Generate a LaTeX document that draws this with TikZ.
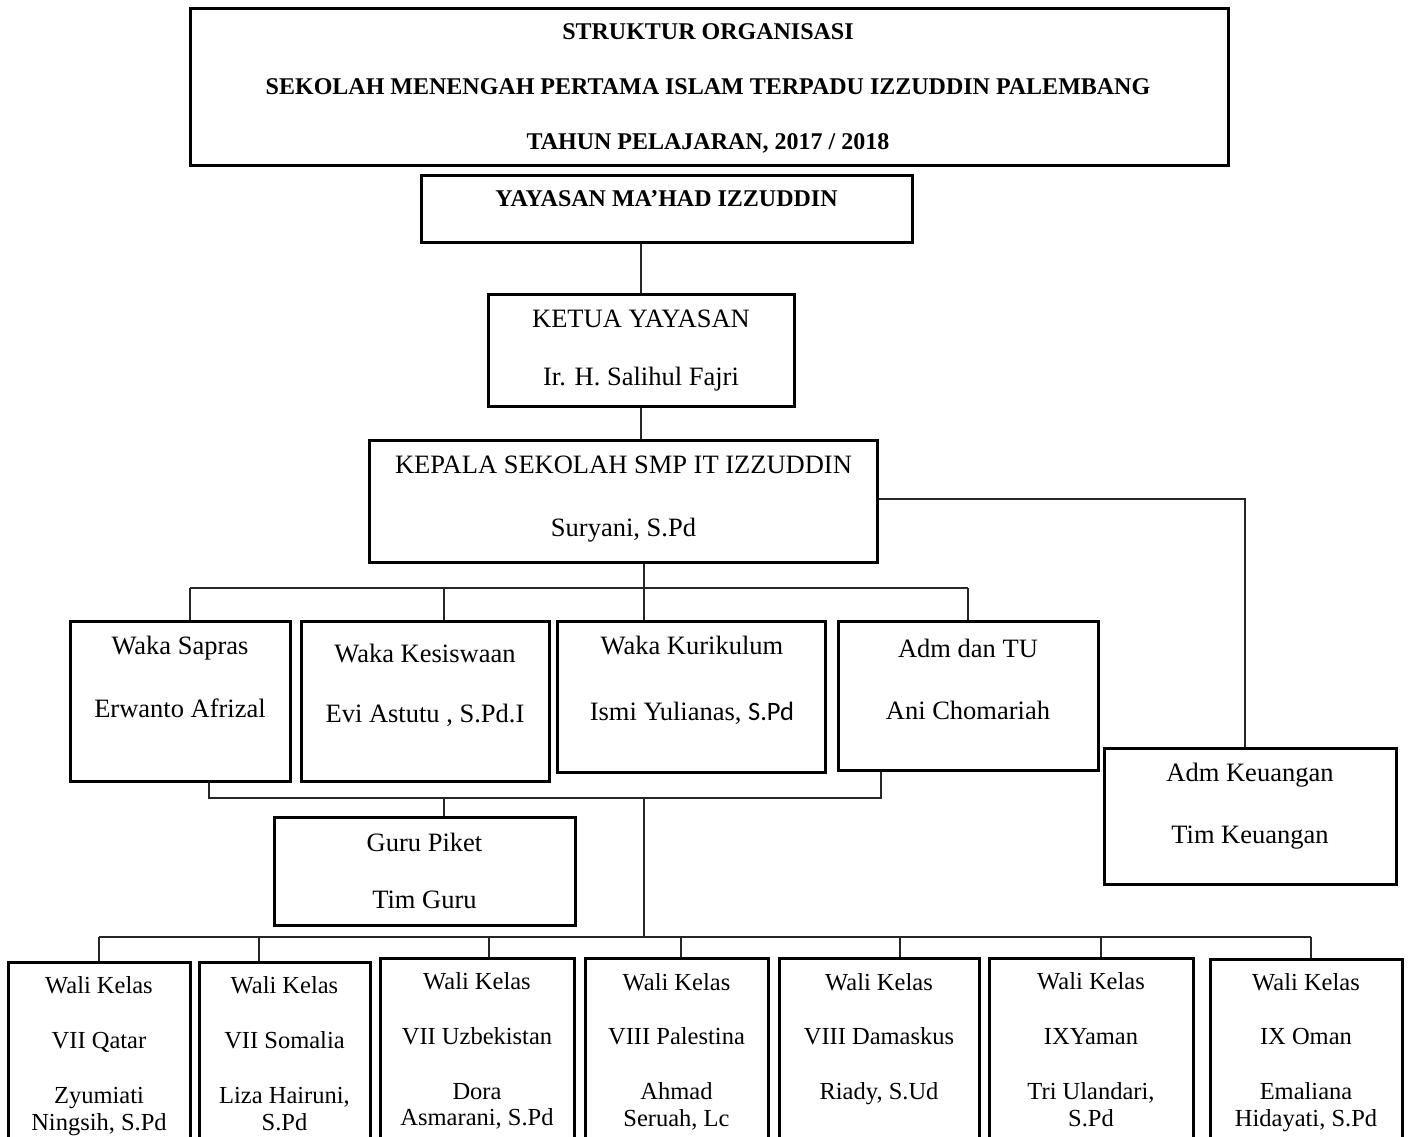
\documentclass[tikz,border=0pt]{standalone}
\usepackage{fontspec}
\setmainfont{Liberation Serif}
\newfontfamily\calibri{Carlito}
\begin{document}
\begin{tikzpicture}[x=1pt,y=-1pt,
  box/.style={draw,line width=3pt,inner sep=0pt},
  conn/.style={line width=1.2pt,draw=black!85},
  head/.style={font=\bfseries\fontsize{24}{28}\selectfont,text height=1.3em,text depth=0pt},
  mid/.style={font=\fontsize{26.5}{30}\selectfont,text height=1.3em,text depth=0pt},
  low/.style={font=\fontsize{24.5}{27}\selectfont,text height=1.3em,text depth=0pt}]
\clip (0,0) rectangle (1414,1136);

\node[box,minimum width=1038pt,minimum height=157pt] (title) at (709,86.5) {};
\node[head] (title1) at (708,33) {STRUKTUR ORGANISASI};
\node[head] (title2) at (708,88) {SEKOLAH MENENGAH PERTAMA ISLAM TERPADU IZZUDDIN PALEMBANG};
\node[head] (title3) at (708,143) {TAHUN PELAJARAN, 2017 / 2018};

\node[box,minimum width=491pt,minimum height=67pt] (yayasan) at (666.5,208.5) {};
\node[head] (yayasan1) at (666.5,200) {YAYASAN MA’HAD IZZUDDIN};

\node[box,minimum width=306pt,minimum height=112pt] (ketua) at (641,350) {};
\node[mid] (ketua1) at (641,321) {KETUA YAYASAN};
\node[mid] (ketua2) at (641,379) {Ir. H. Salihul Fajri};

\node[box,minimum width=508pt,minimum height=122pt] (kepala) at (623.5,501) {};
\node[mid] (kepala1) at (623.5,467) {KEPALA SEKOLAH SMP IT IZZUDDIN};
\node[mid] (kepala2) at (623.5,530) {Suryani, S.Pd};

\node[box,minimum width=220pt,minimum height=160pt] (sapras) at (180,701) {};
\node[mid] (sapras1) at (180,648) {Waka Sapras};
\node[mid] (sapras2) at (180,711) {Erwanto Afrizal};

\node[box,minimum width=248pt,minimum height=160pt] (kesiswaan) at (425,701) {};
\node[mid] (kesiswaan1) at (425,656) {Waka Kesiswaan};
\node[mid] (kesiswaan2) at (425,716) {Evi Astutu , S.Pd.I};

\node[box,minimum width=268pt,minimum height=151pt] (kurikulum) at (691,696.5) {};
\node[mid] (kurikulum1) at (692,648) {Waka Kurikulum};
\node[mid] (kurikulum2) at (692,714) {Ismi Yulianas, {\calibri S.Pd}};

\node[box,minimum width=260pt,minimum height=149pt] (admtu) at (968,695.5) {};
\node[mid] (admtu1) at (968,651) {Adm dan TU};
\node[mid] (admtu2) at (968,713) {Ani Chomariah};

\node[box,minimum width=292pt,minimum height=136pt] (keuangan) at (1250,816) {};
\node[mid] (keuangan1) at (1250,775) {Adm Keuangan};
\node[mid] (keuangan2) at (1250,837) {Tim Keuangan};

\node[box,minimum width=301pt,minimum height=108pt] (piket) at (424.5,871) {};
\node[mid] (piket1) at (424.5,845) {Guru Piket};
\node[mid] (piket2) at (424.5,902) {Tim Guru};

\node[box,minimum width=182pt,minimum height=218pt] (wali1) at (99,1071) {};
\node[low] (wali1a) at (99,987) {Wali Kelas};
\node[low] (wali1b) at (99,1042) {VII Qatar};
\node[low] (wali1c) at (99,1097) {Zyumiati};
\node[low] (wali1d) at (99,1124) {Ningsih, S.Pd};

\node[box,minimum width=171pt,minimum height=218pt] (wali2) at (284.5,1071) {};
\node[low] (wali2a) at (284.5,987) {Wali Kelas};
\node[low] (wali2b) at (284.5,1042) {VII Somalia};
\node[low] (wali2c) at (284.5,1097) {Liza Hairuni,};
\node[low] (wali2d) at (284.5,1124) {S.Pd};

\node[box,minimum width=194pt,minimum height=222pt] (wali3) at (477,1069) {};
\node[low] (wali3a) at (477,983) {Wali Kelas};
\node[low] (wali3b) at (477,1038) {VII Uzbekistan};
\node[low] (wali3c) at (477,1093) {Dora};
\node[low] (wali3d) at (477,1119) {Asmarani, S.Pd};

\node[box,minimum width=183pt,minimum height=222pt] (wali4) at (676.5,1069) {};
\node[low] (wali4a) at (676.5,984) {Wali Kelas};
\node[low] (wali4b) at (676.5,1038) {VIII Palestina};
\node[low] (wali4c) at (676.5,1093) {Ahmad};
\node[low] (wali4d) at (676.5,1120) {Seruah, Lc};

\node[box,minimum width=200pt,minimum height=222pt] (wali5) at (879,1069) {};
\node[low] (wali5a) at (879,984) {Wali Kelas};
\node[low] (wali5b) at (879,1038) {VIII Damaskus};
\node[low] (wali5c) at (879,1093) {Riady, S.Ud};

\node[box,minimum width=204pt,minimum height=222pt] (wali6) at (1091,1069) {};
\node[low] (wali6a) at (1091,983) {Wali Kelas};
\node[low] (wali6b) at (1091,1038) {IXYaman};
\node[low] (wali6c) at (1091,1093) {Tri Ulandari,};
\node[low] (wali6d) at (1091,1120) {S.Pd};

\node[box,minimum width=192pt,minimum height=221pt] (wali7) at (1306,1069.5) {};
\node[low] (wali7a) at (1306,984) {Wali Kelas};
\node[low] (wali7b) at (1306,1038) {IX Oman};
\node[low] (wali7c) at (1306,1093) {Emaliana};
\node[low] (wali7d) at (1306,1120) {Hidayati, S.Pd};

\draw[conn] (ketua.north) -- (ketua.north |- yayasan.south);
\draw[conn] (ketua.south) -- (ketua.south |- kepala.north);

\coordinate (kr) at (1245,499);
\draw[conn] (kepala.east |- kr) -- (kr) -- (kr |- keuangan.north);

\coordinate (d1) at (190,588);
\coordinate (d2) at (444,588);
\coordinate (d3) at (644,588);
\coordinate (d4) at (968,588);
\draw[conn] (d3 |- kepala.south) -- (d3);
\draw[conn] (d1) -- (d4);
\draw[conn] (d1) -- (d1 |- sapras.north);
\draw[conn] (d2) -- (d2 |- kesiswaan.north);
\draw[conn] (d3) -- (d3 |- kurikulum.north);
\draw[conn] (d4) -- (d4 |- admtu.north);

\coordinate (e1) at (209,798);
\coordinate (e2) at (444,798);
\coordinate (e3) at (644,798);
\coordinate (e4) at (881,798);
\draw[conn] (e1 |- sapras.south) -- (e1) -- (e4) -- (e4 |- admtu.south);
\draw[conn] (e2) -- (e2 |- piket.north);

\coordinate (f0) at (644,937);
\draw[conn] (e3) -- (f0);
\coordinate (f1) at (99,937);
\coordinate (f2) at (259,937);
\coordinate (f3) at (489,937);
\coordinate (f4) at (681,937);
\coordinate (f5) at (900,937);
\coordinate (f6) at (1101,937);
\coordinate (f7) at (1311,937);
\draw[conn] (f1) -- (f7);
\foreach \i in {1,...,7}
  \draw[conn] (f\i) -- (f\i |- wali\i.north);
\end{tikzpicture}
\end{document}
